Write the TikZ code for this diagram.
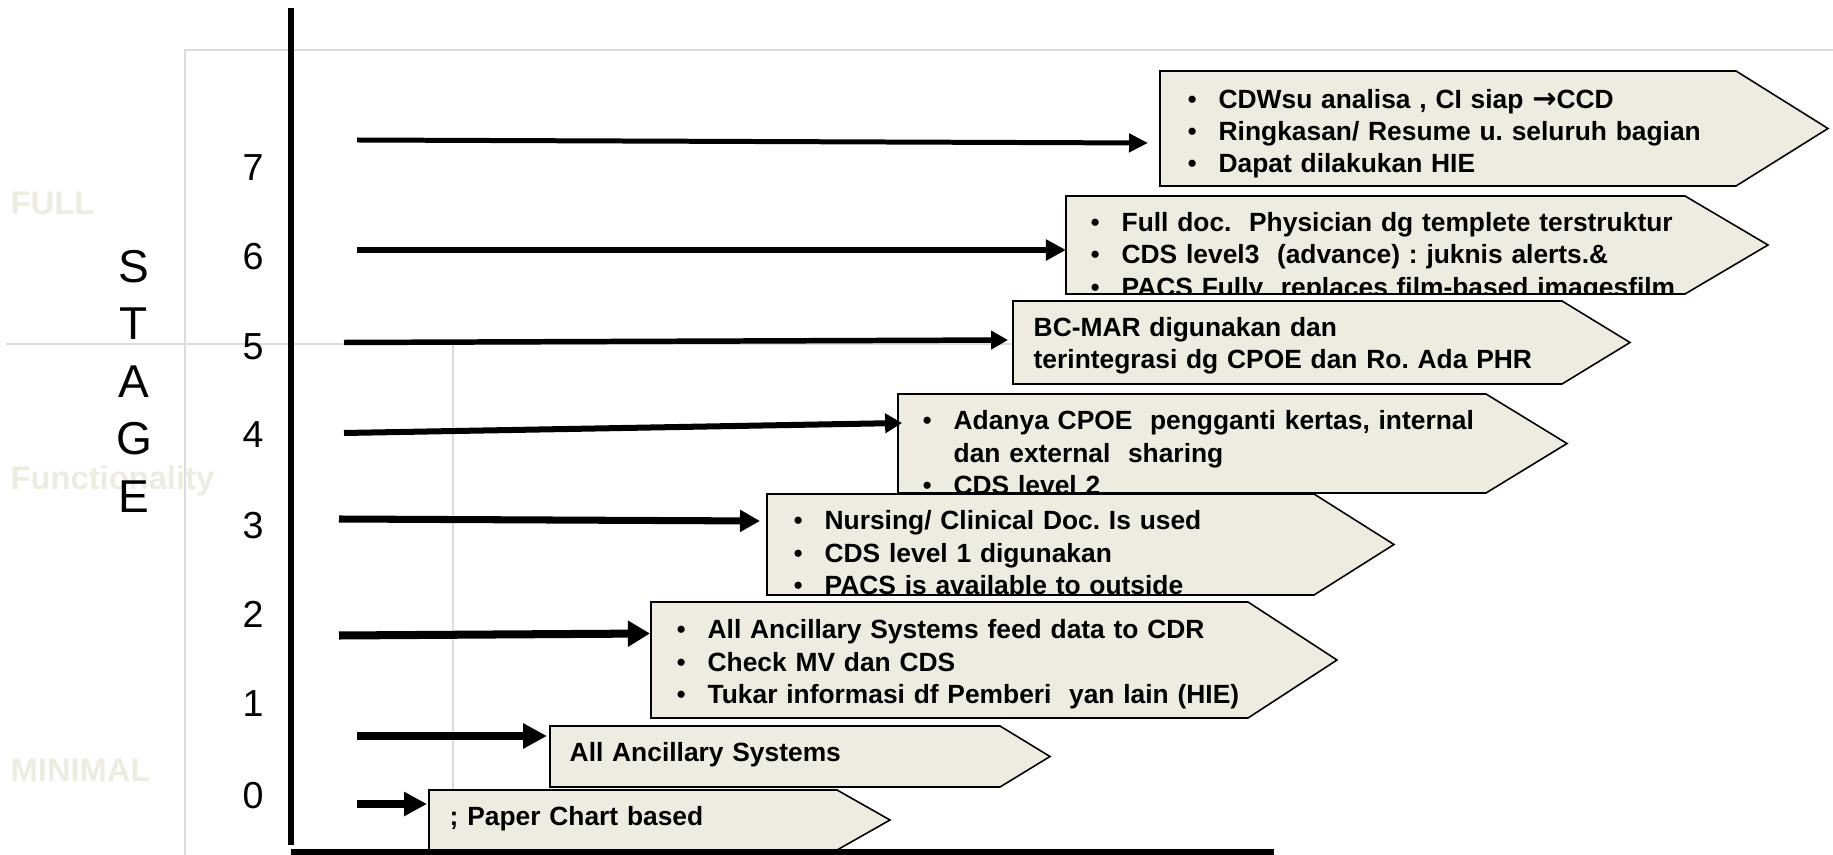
\documentclass[tikz,border=0pt]{standalone}
\usepackage{fontspec}
\setmainfont{Liberation Sans}
\newfontfamily\arrowfont{DejaVu Sans}
\usetikzlibrary{arrows.meta}
\definecolor{boxbg}{HTML}{EEECE1}
\definecolor{faint}{HTML}{EEECE1}
\definecolor{gridgray}{HTML}{DCDCDC}
\tikzset{
  boxfill/.style={fill=boxbg},
  boxline/.style={draw=black, line width=0.45pt, line join=miter},
  boxtext/.style={font=\bfseries\fontsize{7.5}{9.1}\selectfont, inner sep=0pt, anchor=base west, text width=9cm, align=left},
  stagearrow/.style n args={3}{draw=black, line width=#1, -{Triangle[length=#2,width=#3]}},
  digit/.style={font=\fontsize{10.7}{12}\selectfont, anchor=base, inner sep=0pt},
  stageletter/.style={font=\fontsize{13.1}{15}\selectfont, anchor=base, inner sep=0pt},
  faintlbl/.style={font=\bfseries\fontsize{9.3}{11}\selectfont, text=faint, anchor=base west, inner sep=0pt},
  gridline/.style={draw=gridgray, line width=0.7pt},
  axisline/.style={draw=black, line width=1.6pt}
}
\newcommand{\bul}{\makebox[8.8pt][l]{\mdseries\textbullet}}
\newcommand{\heavyarrow}{{\arrowfont\bfseries\scalebox{1.1}{→}}}
% #1 L, #2 T, #3 B, #4 R, #5 tip, #6 text x, #7 baseline, #8 name, #9 text
\newcommand{\stagebox}[9]{%
  \fill[boxfill] (#1,#2) -- (#4,#2) -- (#5,{(#2+#3)/2}) -- (#4,#3) -- (#1,#3) -- cycle;
  \begin{scope}
    \clip (#1,#2) -- (#4,#2) -- (#5,{(#2+#3)/2}) -- (#4,#3) -- (#1,#3) -- cycle;
    \node[boxtext] (#8) at (#6,#7) {#9};
  \end{scope}
  \draw[boxline] (#1,#2) -- (#4,#2) -- (#5,{(#2+#3)/2}) -- (#4,#3) -- (#1,#3) -- cycle;
}
\frenchspacing
\begin{document}
\begin{tikzpicture}[x=0.01cm,y=-0.01cm]
\useasboundingbox (0,0) rectangle (1833,855);
\fill[white] (0,0) rectangle (1833,855);
% background grid lines
\draw[gridline] (185,855) -- (185,50) -- (1833,50);
\draw[gridline] (6,344) -- (1100,344);
\draw[gridline] (453,344) -- (453,855);
% faint labels
\node[faintlbl] (full) at (10,215) {FULL};
\node[faintlbl] (func) at (10,490) {Functionality};
\node[faintlbl] (mini) at (10,781) {MINIMAL};
% STAGE
\foreach \l/\yy [count=\i] in {S/283,T/340,A/397.5,G/455,E/512.5}
  \node[stageletter] (st\i) at (134,\yy) {\l};
% digits
\foreach \k/\yy in {0/808.5,1/716.5,2/627.5,3/538.5,4/447.5,5/359.5,6/269.5,7/180.5}
  \node[digit] (d\k) at (253,\yy) {\k};
% boxes
\stagebox{1160}{71}{186}{1736}{1828}{1187}{109}{b7}{\bul CDWsu analisa , CI siap \heavyarrow CCD\\ \bul Ringkasan/ Resume u. seluruh bagian\\ \bul Dapat dilakukan HIE}
\stagebox{1066}{196}{294}{1685}{1768}{1090}{232}{b6}{\bul Full doc.\ \ Physician dg templete terstruktur\\ \bul CDS level3\ \ (advance) : juknis alerts.\&\\ \bul PACS Fully\ \ replaces film-based imagesfilm}
\stagebox{1013}{301}{384}{1562}{1630}{1033}{337}{b5}{BC-MAR digunakan dan\\ terintegrasi dg CPOE dan Ro. Ada PHR}
\stagebox{898}{394}{493}{1486}{1567}{922}{430}{b4}{\bul Adanya CPOE\ \ pengganti kertas, internal\\ \hspace*{8.8pt}dan external\ \ sharing\\ \bul CDS level 2}
\stagebox{767}{494}{595}{1314}{1394}{793}{530}{b3}{\bul Nursing/ Clinical Doc. Is used\\ \bul CDS level 1 digunakan\\ \bul PACS is available to outside}
\stagebox{651}{602}{718}{1248}{1337}{676}{639}{b2}{\bul All Ancillary Systems feed data to CDR\\ \bul Check MV dan CDS\\ \bul Tukar informasi df Pemberi\ \ yan lain (HIE)}
\stagebox{550}{726}{787}{1000}{1050}{569}{761}{b1}{All Ancillary Systems}
\stagebox{429}{790}{850}{837}{890}{449}{825}{b0}{; Paper Chart based}
% axes
\coordinate (ax top) at (291,8);
\coordinate (ax bot) at (291,845);
\coordinate (hx l) at (291,852);
\coordinate (hx r) at (1274,852);
\draw[axisline] (ax top) -- (ax bot);
\draw[axisline, line width=1.45pt] (hx l) -- (hx r);
% arrows
\coordinate (s7) at (357,140);   \coordinate (e7) at (1148,143);
\coordinate (s6) at (357,250);   \coordinate (e6) at (1066,250);
\coordinate (s5) at (344,342.5); \coordinate (e5) at (1008,340);
\coordinate (s4) at (344,433);   \coordinate (e4) at (902,423);
\coordinate (s3) at (339,519);   \coordinate (e3) at (760,521);
\coordinate (s2) at (339,635.5); \coordinate (e2) at (650,633.5);
\coordinate (s1) at (357,736);   \coordinate (e1) at (547,736);
\coordinate (s0) at (357,804);   \coordinate (e0) at (427,804);
\draw[stagearrow={1.42pt}{5.4pt}{5.1pt}] (s7) -- (e7);
\draw[stagearrow={1.56pt}{5.7pt}{5.7pt}] (s6) -- (e6);
\draw[stagearrow={1.56pt}{4.8pt}{5.1pt}] (s5) -- (e5);
\draw[stagearrow={1.71pt}{4.8pt}{5.4pt}] (s4) -- (e4);
\draw[stagearrow={2.0pt}{5.7pt}{6.0pt}] (s3) -- (e3);
\draw[stagearrow={2.28pt}{6.3pt}{7.1pt}] (s2) -- (e2);
\draw[stagearrow={2.28pt}{6.8pt}{6.8pt}] (s1) -- (e1);
\draw[stagearrow={2.28pt}{6.5pt}{6.5pt}] (s0) -- (e0);
\end{tikzpicture}
\end{document}
